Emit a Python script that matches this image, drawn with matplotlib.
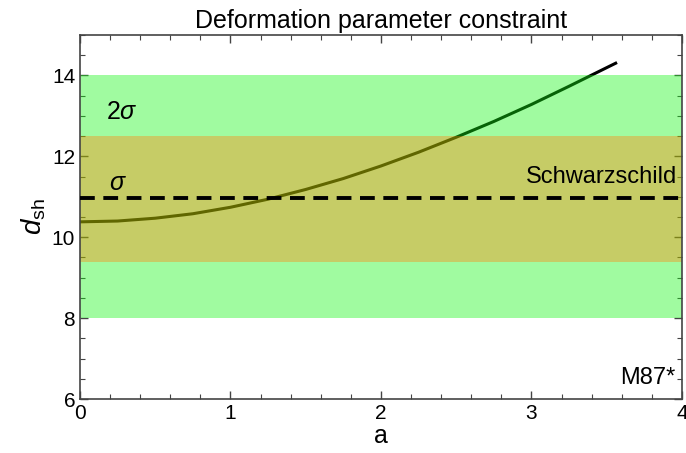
import numpy as np
import matplotlib
matplotlib.use('Agg')
import matplotlib.pyplot as plt

plt.rcParams['font.family'] = ['Liberation Sans', 'DejaVu Sans']
plt.rcParams['mathtext.fontset'] = 'custom'
plt.rcParams['mathtext.rm'] = 'Liberation Sans'
plt.rcParams['mathtext.it'] = 'Liberation Sans:italic'

# shadow diameter curve
spin = [0, 0.25, 0.5, 0.75, 1.0, 1.25, 1.5, 1.75, 2.0, 2.25, 2.5, 2.75, 3.0, 3.25, 3.5, 3.56]
d_sh = [10.38, 10.40, 10.47, 10.58, 10.74, 10.94, 11.18, 11.45, 11.76, 12.10, 12.47, 12.86, 13.28, 13.73, 14.19, 14.30]

band_2sigma = [8.0, 14.0]
band_1sigma = [9.4, 12.5]
schwarzschild = 10.96

fig = plt.figure(figsize=(6.86, 4.53), dpi=100)
ax = fig.add_axes([0.1166, 0.119, 0.8774, 0.804])

ax.plot(spin, d_sh, color='black', lw=2.2, zorder=1)

# translucent bands drawn over the curve
ax.axhspan(band_2sigma[0], band_1sigma[0], color=(0.07, 0.97, 0.07), alpha=0.4, lw=0, zorder=2)
ax.axhspan(band_1sigma[1], band_2sigma[1], color=(0.07, 0.97, 0.07), alpha=0.4, lw=0, zorder=2)
ax.axhspan(band_1sigma[0], band_1sigma[1], color=(0.63, 0.67, 0.0), alpha=0.6, lw=0, zorder=2)

ax.axhline(schwarzschild, color='black', lw=2.8, ls=(0, (3.8, 2.2)), zorder=3)

ax.text(0.17, 13.1, r'2$\sigma$', fontsize=18, va='center', ha='left', zorder=4)
ax.text(0.19, 11.35, r'$\sigma$', fontsize=18, va='center', ha='left', zorder=4)
ax.text(3.97, 11.49, 'Schwarzschild', fontsize=17, va='center', ha='right', zorder=4)
ax.text(3.96, 6.52, 'M87*', fontsize=17, va='center', ha='right', zorder=4)

ax.set_xlim(0, 4)
ax.set_ylim(6, 15)
ax.set_xticks([0, 1, 2, 3, 4])
ax.set_yticks([6, 8, 10, 12, 14])
ax.set_xticks(np.arange(0, 4.01, 0.2), minor=True)
ax.set_yticks(np.arange(6, 15.01, 0.5), minor=True)
ax.tick_params(which='both', direction='in', top=True, right=True, labelsize=15, color='#444444')
ax.tick_params(which='major', length=6, width=1)
ax.tick_params(which='minor', length=3.5, width=0.8)
for s in ax.spines.values():
    s.set_color('#444444')
    s.set_linewidth(1.2)

ax.set_xlabel('a', fontsize=18, labelpad=1)
ax.set_ylabel(r'$d_{\rm sh}$', fontsize=20, labelpad=3)
ax.set_title('Deformation parameter constraint', fontsize=18, pad=5)

fig.savefig('out.png', dpi=100)
